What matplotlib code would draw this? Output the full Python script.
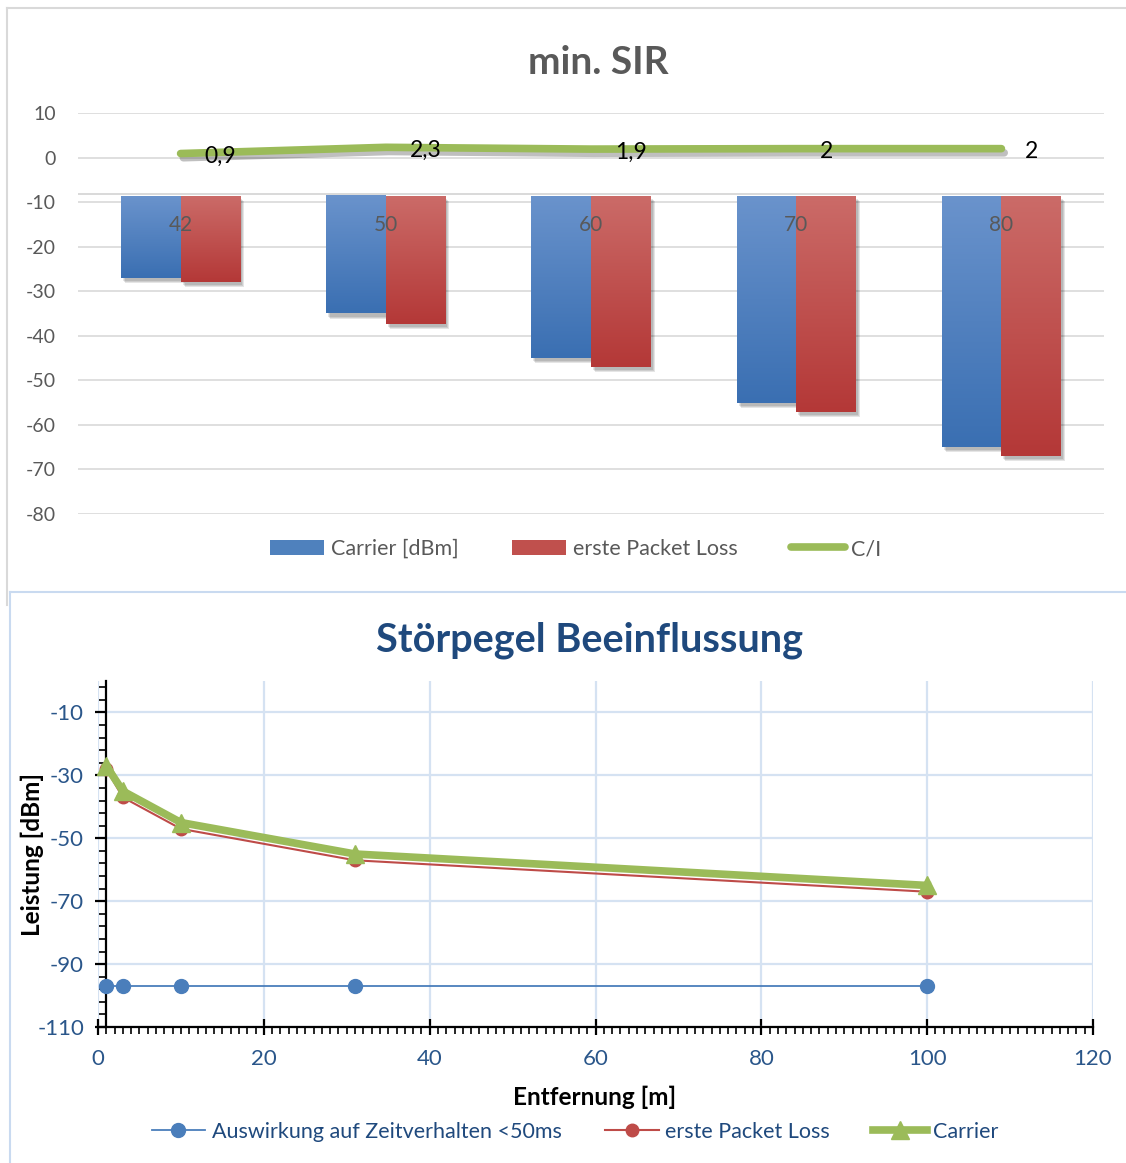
import numpy as np
import matplotlib
matplotlib.use("Agg")
import matplotlib.pyplot as plt
from matplotlib.colors import LinearSegmentedColormap
from matplotlib.patches import Rectangle, Patch
from matplotlib.lines import Line2D
from matplotlib.transforms import ScaledTranslation
import matplotlib.patheffects as pe

plt.rcParams['font.family'] = ['Lato', 'DejaVu Sans']
plt.rcParams['axes.unicode_minus'] = False

# ---- data ----
categories = ["42", "50", "60", "70", "80"]
carrier_dbm = [-27.0, -35.0, -45.0, -55.0, -65.0]
packet_loss_dbm = [-27.9, -37.3, -46.9, -57.0, -67.0]
c_to_i = [0.9, 2.3, 1.9, 2.0, 2.0]
c_to_i_labels = ["0,9", "2,3", "1,9", "2", "2"]

distance_m = [1, 3, 10, 31, 100]
timing_impact_dbm = [-97, -97, -97, -97, -97]
loss_dbm = [-28, -37, -47, -57, -67]
carrier_line_dbm = [-27, -35, -45, -55, -65]

W, H = 1126, 1163
fig = plt.figure(figsize=(W / 100, H / 100), dpi=100)
fig.patch.set_facecolor("white")

def px_rect(x0, y0, x1, y1):
    return [x0 / W, 1 - y1 / H, (x1 - x0) / W, (y1 - y0) / H]

# frames around the two charts
fig.add_artist(Line2D([7 / W, 1], [1 - 8 / H, 1 - 8 / H], color="#d9d9d9", lw=1.5))
fig.add_artist(Line2D([7 / W, 7 / W], [1 - 8 / H, 1 - 605 / H], color="#d9d9d9", lw=1.5))
fig.add_artist(Line2D([10 / W, 1], [1 - 592 / H, 1 - 592 / H], color="#c9daf0", lw=1.5))
fig.add_artist(Line2D([10 / W, 10 / W], [1 - 592 / H, 0], color="#c9daf0", lw=1.5))

# ================= top chart: min. SIR =================
ax = fig.add_axes(px_rect(78, 113, 1104, 514))
ax.set_xlim(-0.5, 4.5)
ax.set_ylim(-80, 10)
for s in ax.spines.values():
    s.set_visible(False)
ax.set_yticks(np.arange(-80, 11, 10))
ax.tick_params(axis="y", length=0, pad=16, labelsize=14, labelcolor="#595959")
ax.set_xticks([])
ax.yaxis.grid(True, color="#d9d9d9", lw=1.2)
ax.set_axisbelow(True)

bar_base = -8.7
ax.axhline(-8.1, color="#d9d9d9", lw=1.4, zorder=1)

blue_cmap = LinearSegmentedColormap.from_list("b", ["#6a93cc", "#3a6fb2"])
red_cmap = LinearSegmentedColormap.from_list("r", ["#cb6b68", "#b43837"])
grad = np.linspace(0, 1, 256).reshape(-1, 1)
bw = 0.29

def gradient_bar(xc, val, cmap):
    x0, x1 = xc - bw / 2, xc + bw / 2
    # soft drop shadow
    for k, a in enumerate([0.10, 0.10, 0.10]):
        off = ScaledTranslation((2 + k) / 100, -(3 + k) / 100, fig.dpi_scale_trans)
        ax.add_patch(Rectangle((x0, val), bw, bar_base - val, facecolor="black",
                               alpha=a, lw=0, transform=ax.transData + off, zorder=2))
    ax.imshow(grad, cmap=cmap, aspect="auto", extent=(x0, x1, val, bar_base),
              origin="upper", zorder=3, interpolation="bilinear")

for i in range(len(categories)):
    gradient_bar(i - bw / 2, carrier_dbm[i], blue_cmap)
for i in range(len(categories)):
    gradient_bar(i + bw / 2, packet_loss_dbm[i], red_cmap)

for i, c in enumerate(categories):
    ax.text(i, -15.1, c, ha="center", va="center", fontsize=15, color="#595959", zorder=5)

xs = np.arange(len(categories))
ax.plot(xs, c_to_i, color="#9bbb59", lw=5.5, solid_capstyle="round", zorder=4,
        path_effects=[pe.SimpleLineShadow(offset=(2, -3), alpha=0.25), pe.Normal()])
for i, lab in enumerate(c_to_i_labels):
    ax.annotate(lab, (xs[i], c_to_i[i]), xytext=(17, -2), textcoords="offset points",
                ha="left", va="center", fontsize=16.5, color="black", zorder=6)

ax.set_xlim(-0.5, 4.5)
ax.set_ylim(-80, 10)

fig.text(598 / W, 1 - 62 / H, "min. SIR", ha="center", va="center",
         fontsize=28, fontweight="bold", color="#595959")

h_top = [Patch(facecolor="#4f81bd", edgecolor="none"),
         Patch(facecolor="#c0504d", edgecolor="none"),
         Line2D([], [], color="#9bbb59", lw=5.5, solid_capstyle="round")]
leg = fig.legend(h_top, ["Carrier [dBm]", "erste Packet Loss", "C/I"], loc="center",
                 bbox_to_anchor=(576 / W, 1 - 549 / H), ncol=3, frameon=False,
                 fontsize=15.5, handlelength=2.5, handletextpad=0.3, columnspacing=2.5)
for t in leg.get_texts():
    t.set_color("#595959")

# ================= bottom chart: Störpegel Beeinflussung =================
ax2 = fig.add_axes(px_rect(98, 681, 1093, 1027))
ax2.set_xlim(0, 120)
ax2.set_ylim(-110, 0)
ax2.spines["top"].set_visible(False)
ax2.spines["right"].set_visible(False)
ax2.spines["left"].set_position(("data", 1))
for s in ("left", "bottom"):
    ax2.spines[s].set_color("black")
    ax2.spines[s].set_linewidth(1.6)

ax2.set_xticks(np.arange(0, 121, 20))
ax2.set_xticks(np.arange(0, 121, 1), minor=True)
ax2.set_yticks(np.arange(-110, 0, 20))
ax2.set_yticks(np.arange(-110, 0, 4), minor=True)
tick_col = "#2a568a"
ax2.tick_params(axis="x", which="major", direction="inout", length=11, width=1.6,
                labelsize=16, labelcolor=tick_col, pad=10)
ax2.tick_params(axis="x", which="minor", direction="out", length=5, width=1.2)
ax2.tick_params(axis="y", which="major", direction="out", length=8, width=1.6,
                labelsize=16, labelcolor=tick_col, pad=8)
ax2.tick_params(axis="y", which="minor", direction="out", length=5, width=1.2)
ax2.grid(True, which="major", color="#d5e2f2", lw=1.6)
ax2.set_axisbelow(True)

ax2.plot(distance_m, timing_impact_dbm, color="#4a7ebb", lw=1.3, marker="o",
         markersize=10, markerfacecolor="#4a7ebb", markeredgecolor="#4a7ebb",
         zorder=3, clip_on=False, label="Auswirkung auf Zeitverhalten <50ms")
ax2.plot(distance_m, loss_dbm, color="#be4b48", lw=1.5, marker="o",
         markersize=9, markerfacecolor="#be4b48", markeredgecolor="#be4b48",
         zorder=4, clip_on=False, label="erste Packet Loss")
ax2.plot(distance_m, carrier_line_dbm, color="#9bbb59", lw=5.5, marker="^",
         markersize=13, markerfacecolor="#9bbb59", markeredgecolor="#9bbb59",
         zorder=5, clip_on=False, label="Carrier")

fig.text(595 / W, 1 - 1097 / H, "Entfernung [m]", ha="center", va="center",
         fontsize=17.5, fontweight="bold", color="black")
fig.text(32 / W, 1 - 855 / H, "Leistung [dBm]", rotation=90, ha="center", va="center",
         fontsize=17.5, fontweight="bold", color="black")

fig.text(590 / W, 1 - 640 / H, "Störpegel Beeinflussung", ha="center", va="center",
         fontsize=28.5, fontweight="bold", color="#1f497d")

h, l = ax2.get_legend_handles_labels()
leg2 = fig.legend(h, l, loc="center", bbox_to_anchor=(575 / W, 1 - 1132 / H), ncol=3,
                  frameon=False, fontsize=15.5, handlelength=2.5, handletextpad=0.3,
                  columnspacing=2.0)
for t in leg2.get_texts():
    t.set_color("#1f497d")

fig.savefig("out.png", dpi=100, facecolor="white")
